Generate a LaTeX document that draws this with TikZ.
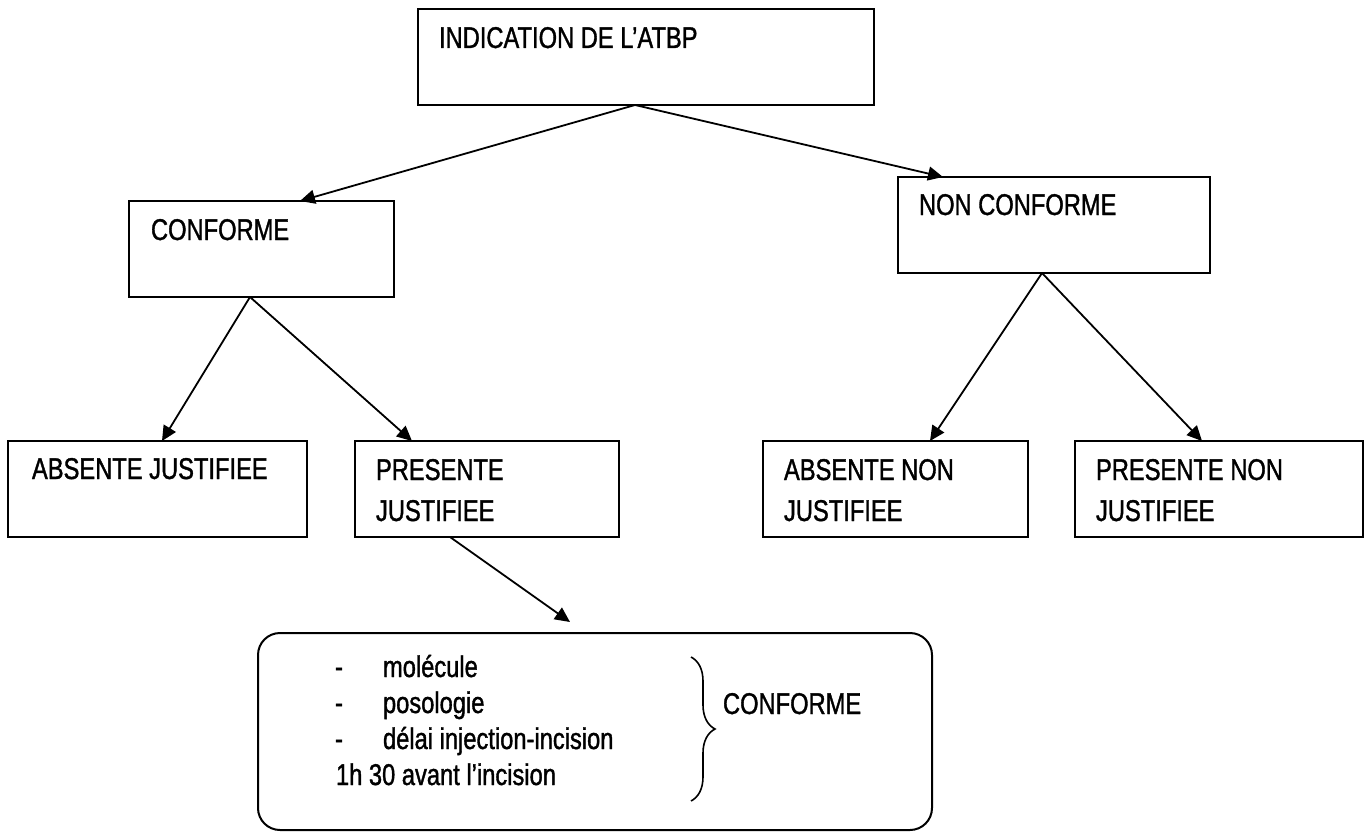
\documentclass[tikz,border=0pt]{standalone}
\usepackage{fontspec}
\setmainfont{Liberation Sans}[FakeStretch=0.79,FakeBold=1.2]
\usetikzlibrary{arrows.meta,decorations.pathreplacing,calc}
\begin{document}
\begin{tikzpicture}[x=1pt,y=-1pt,
  box/.style={draw, line width=2pt, inner sep=0pt, outer sep=0pt, anchor=north west},
  txt/.style={inner sep=0pt, outer sep=0pt, anchor=base west, font=\fontsize{30}{36}\selectfont},
  arr/.style={line width=1.8pt, -{Triangle[length=15pt,width=14pt]}}]
\useasboundingbox (0,0) rectangle (1371,832);
% boxes
\node[box, minimum width=456pt, minimum height=96pt] (top) at (418,9) {};
\node[box, minimum width=265pt, minimum height=96pt] (conf) at (129,201) {};
\node[box, minimum width=312pt, minimum height=96pt] (nc) at (898,177) {};
\node[box, minimum width=299pt, minimum height=96pt] (absj) at (8,441) {};
\node[box, minimum width=264pt, minimum height=96pt] (presj) at (355,441) {};
\node[box, minimum width=265pt, minimum height=96pt] (absnj) at (763,441) {};
\node[box, minimum width=288pt, minimum height=96pt] (presnj) at (1075,441) {};
\node[box, rounded corners=22pt, minimum width=674pt, minimum height=197pt] (rb) at (258,633) {};
% texts
\node[txt] (ttop) at (439,48) {INDICATION DE L’ATBP};
\node[txt] (tconf) at (151,240) {CONFORME};
\node[txt] (tnc) at (919,215) {NON CONFORME};
\node[txt] (tabsj) at (32,479) {ABSENTE JUSTIFIEE};
\node[txt] (tpresja) at (376,480) {PRESENTE};
\node[txt] (tpresjb) at (376,521) {JUSTIFIEE};
\node[txt] (tabsnja) at (784,480) {ABSENTE NON};
\node[txt] (tabsnjb) at (784,521) {JUSTIFIEE};
\node[txt] (tpresnja) at (1096,480) {PRESENTE NON};
\node[txt] (tpresnjb) at (1096,521) {JUSTIFIEE};
\node[txt] (d1) at (335,677) {-};
\node[txt] (l1) at (383,677) {molécule};
\node[txt] (d2) at (335,713) {-};
\node[txt] (l2) at (383,713) {posologie};
\node[txt] (d3) at (335,749) {-};
\node[txt] (l3) at (383,749) {délai injection-incision};
\node[txt] (l4) at (336,785) {1h 30 avant l’incision};
\node[txt] (tconf2) at (723,714) {CONFORME};
% brace
\coordinate (bt) at (691,657);
\coordinate (bb) at (691,801);
\draw[line width=1.6pt, decorate, decoration={brace, amplitude=24pt}] (bt) -- (bb);
% arrows
\draw[arr] ([xshift=-11pt]top.south) -- ([xshift=38.5pt]conf.north);
\draw[arr] ([xshift=-11pt]top.south) -- ([xshift=-111pt]nc.north);
\draw[arr] ([xshift=-11.5pt]conf.south) -- ([xshift=4.5pt]absj.north);
\draw[arr] ([xshift=-11.5pt]conf.south) -- ([xshift=-75pt]presj.north);
\draw[arr] ([xshift=-12pt]nc.south) -- ([xshift=34.5pt]absnj.north);
\draw[arr] ([xshift=-12pt]nc.south) -- ([xshift=-17pt]presnj.north);
\coordinate (r1) at ([xshift=-25pt,yshift=11pt]rb.north);
\draw[arr] ([xshift=-37pt]presj.south) -- (r1);
\end{tikzpicture}
\end{document}
